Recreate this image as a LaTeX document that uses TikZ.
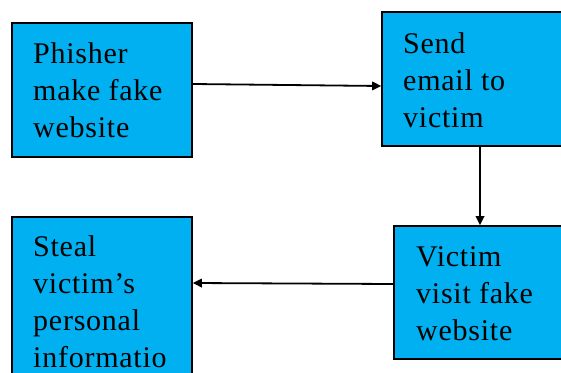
\documentclass[tikz,border=0pt]{standalone}
\usepackage{fontspec}
\setmainfont{Liberation Serif}
\newfontfamily\boxfont[LetterSpace=2.5]{Liberation Serif}
\usetikzlibrary{arrows.meta}
\definecolor{boxblue}{RGB}{0,176,240}
\begin{document}
\begin{tikzpicture}[x=1pt,y=-1pt,
  stepbox/.style={draw=black, fill=boxblue, line width=1.6pt, inner sep=0pt, rectangle},
  label/.style={anchor=base west, align=left, inner sep=0pt,
    font=\boxfont\fontsize{30}{36.8}\selectfont},
  flow/.style={line width=1.8pt, -{Triangle[length=9pt,width=8.5pt]}}]
\useasboundingbox (0,0) rectangle (561,372);
\clip (0,0) rectangle (561,372);

% boxes
\node[stepbox, minimum width=180pt, minimum height=134pt] (b1) at (102,90) {};
\node[stepbox, minimum width=180pt, minimum height=134pt] (b2) at (472,79) {};
\node[stepbox, minimum width=180pt, minimum height=133pt] (b3) at (484,292.5) {};
\node[stepbox, minimum width=180pt, minimum height=183pt] (b4) at (102,308.5) {};

% texts, placed by the baseline of their last line
\node[label] (t1) at (33,137) {Phisher\\make fake\\website};
\node[label] (t2) at (403,127) {Send\\email to\\victim};
\node[label] (t3) at (416,340) {Victim\\visit fake\\website};
\node[label] (t4) at (33,367) {Steal\\victim’s\\personal\\informatio};

% connectors
\draw[flow] ([yshift=6pt]b1.east) -- ([yshift=-7pt]b2.west);
\draw[flow] ([xshift=8pt]b2.south) -- ([xshift=8pt]b2.south |- b3.north);
\draw[flow] ([yshift=8.5pt]b3.west) -- ([yshift=25.5pt]b4.east);
\end{tikzpicture}
\end{document}
